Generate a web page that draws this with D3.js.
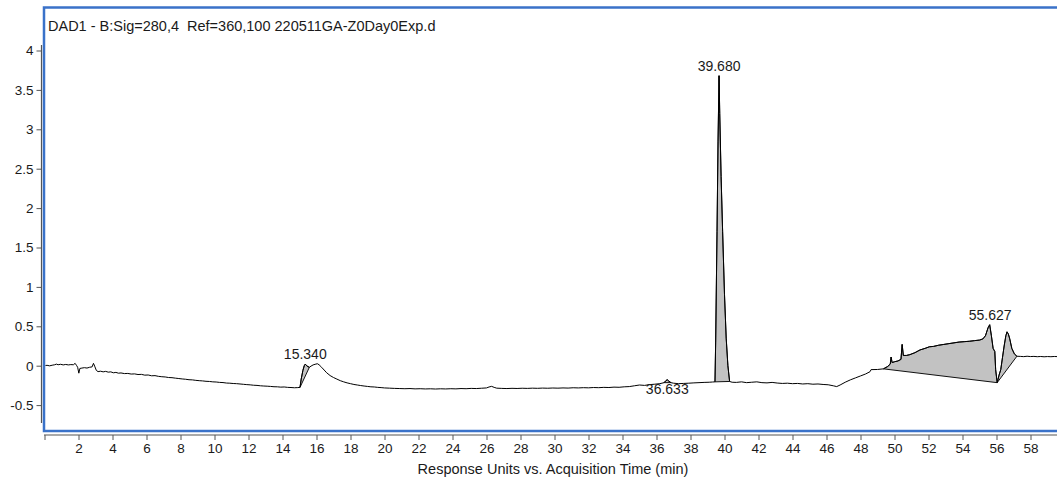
<!DOCTYPE html>
<html>
<head>
<meta charset="utf-8">
<script src="https://cdn.jsdelivr.net/npm/d3@7"></script>
<style>
  html, body { margin: 0; padding: 0; background: #fff; }
  svg { display: block; font-family: "Liberation Sans", Arial, sans-serif; }
  .pre { white-space: pre; }
</style>
</head>
<body>
<svg id="chart" width="1057" height="478"></svg>
<script>
// ---------------- data ----------------
const headerText = "DAD1 - B:Sig=280,4  Ref=360,100 220511GA-Z0Day0Exp.d";
const xAxisTitle = "Response Units vs. Acquisition Time (min)";
const xTickValues = [0, 2, 4, 6, 8, 10, 12, 14, 16, 18, 20, 22, 24, 26, 28, 30, 32, 34, 36, 38, 40, 42, 44, 46, 48, 50, 52, 54, 56, 58];
const yTickValues = [-0.5, 0, 0.5, 1, 1.5, 2, 2.5, 3, 3.5, 4];

// chromatogram trace: [time (min), response]
const trace = [
  [0,0.0],[0.15,0.005],[0.3,-0.002],[0.45,0.006],[0.6,0.012],[0.7,0.02],[0.8,0.012],[0.95,0.018],[1.1,0.01],[1.25,0.016],
  [1.4,0.01],[1.55,0.014],[1.7,0.012],[1.8,0.03],[1.88,0.005],[1.95,-0.02],[2.02,-0.095],[2.08,-0.035],[2.2,-0.03],[2.35,-0.025],
  [2.5,-0.03],[2.65,-0.02],[2.8,-0.015],[2.88,0.03],[2.95,-0.005],[3.05,-0.06],[3.15,-0.075],[3.3,-0.07],[3.45,-0.078],[3.6,-0.072],
  [3.75,-0.082],[3.9,-0.078],[4.05,-0.09],[4.2,-0.085],[4.35,-0.095],[4.5,-0.092],[4.7,-0.1],[4.9,-0.098],[5.1,-0.106],[5.3,-0.104],
  [5.5,-0.112],[5.7,-0.11],[5.9,-0.12],[6.1,-0.118],[6.3,-0.128],[6.5,-0.126],[6.7,-0.135],[6.9,-0.14],[7.1,-0.143],[7.3,-0.15],
  [7.5,-0.152],[7.7,-0.158],[7.9,-0.163],[8.1,-0.168],[8.3,-0.172],[8.5,-0.178],[8.7,-0.18],[8.9,-0.186],[9.1,-0.19],[9.3,-0.193],
  [9.5,-0.198],[9.7,-0.2],[9.9,-0.205],[10.1,-0.207],[10.3,-0.212],[10.5,-0.214],[10.7,-0.22],[10.9,-0.222],[11.1,-0.226],[11.3,-0.228],
  [11.5,-0.232],[11.7,-0.236],[11.9,-0.24],[12.1,-0.243],[12.3,-0.248],[12.5,-0.25],[12.7,-0.255],[12.9,-0.258],[13.1,-0.26],[13.3,-0.263],
  [13.5,-0.267],[13.7,-0.268],[13.9,-0.272],[14.1,-0.27],[14.3,-0.275],[14.5,-0.277],[14.7,-0.28],[14.9,-0.278],[15.03,-0.275],
  [15.1,-0.17],[15.2,-0.06],[15.28,0.0],[15.34,0.02],[15.42,0.0],[15.5,-0.012],[15.58,-0.02],[15.68,-0.005],[15.8,0.01],[15.92,0.018],
  [16.05,0.025],[16.15,0.012],[16.3,-0.02],[16.45,-0.055],[16.6,-0.09],[16.8,-0.125],[17.0,-0.15],[17.2,-0.17],[17.4,-0.19],[17.6,-0.205],
  [17.8,-0.218],[18.0,-0.228],[18.2,-0.238],[18.4,-0.245],[18.6,-0.252],[18.8,-0.258],[19.0,-0.263],[19.2,-0.268],[19.4,-0.27],[19.6,-0.275],
  [19.8,-0.278],[20.0,-0.282],[20.3,-0.285],[20.6,-0.288],[20.9,-0.29],[21.2,-0.292],[21.5,-0.29],[21.8,-0.294],[22.1,-0.292],[22.4,-0.295],
  [22.7,-0.293],[23.0,-0.296],[23.3,-0.293],[23.6,-0.295],[23.9,-0.292],[24.2,-0.294],[24.5,-0.29],[24.8,-0.292],[25.1,-0.288],[25.4,-0.29],
  [25.7,-0.286],[26.0,-0.282],[26.15,-0.27],[26.3,-0.262],[26.45,-0.275],[26.6,-0.285],[26.9,-0.288],[27.2,-0.29],[27.5,-0.287],[27.8,-0.289],
  [28.1,-0.286],[28.4,-0.288],[28.7,-0.285],[29.0,-0.287],[29.3,-0.284],[29.6,-0.286],[29.9,-0.283],[30.2,-0.285],[30.5,-0.282],[30.8,-0.284],
  [31.1,-0.28],[31.4,-0.282],[31.7,-0.279],[32.0,-0.281],[32.3,-0.277],[32.6,-0.279],[32.9,-0.275],[33.2,-0.277],[33.5,-0.272],[33.8,-0.274],
  [34.1,-0.268],[34.4,-0.265],[34.7,-0.255],[35.0,-0.245],[35.3,-0.25],[35.6,-0.24],[35.9,-0.235],[36.2,-0.228],[36.45,-0.215],[36.55,-0.19],
  [36.63,-0.178],[36.72,-0.195],[36.85,-0.215],[37.0,-0.222],[37.3,-0.228],[37.6,-0.225],[37.9,-0.222],[38.2,-0.218],[38.5,-0.215],[38.8,-0.212],
  [39.1,-0.21],[39.3,-0.207],[39.44,-0.205],[39.48,0.3],[39.56,1.7],[39.62,2.85],[39.68,3.68],[39.72,3.2],[39.8,2.4],[39.89,1.7],
  [40.0,0.9],[40.1,0.35],[40.2,0.0],[40.3,-0.2],[40.45,-0.21],[40.7,-0.212],[41.0,-0.205],[41.3,-0.215],[41.6,-0.21],[41.9,-0.205],
  [42.2,-0.215],[42.5,-0.218],[42.8,-0.212],[43.1,-0.22],[43.4,-0.225],[43.7,-0.222],[44.0,-0.228],[44.3,-0.225],[44.6,-0.232],[44.9,-0.228],
  [45.2,-0.235],[45.5,-0.232],[45.8,-0.238],[46.1,-0.242],[46.4,-0.255],[46.6,-0.265],[46.8,-0.245],[47.1,-0.21],[47.4,-0.18],[47.7,-0.155],
  [48.0,-0.13],[48.3,-0.105],[48.56,-0.076],[48.62,-0.05],[49.0,-0.048],[49.35,-0.04],[49.6,-0.01],[49.75,0.02],[49.8,0.11],[49.86,0.04],
  [50.0,0.05],[50.2,0.06],[50.38,0.08],[50.45,0.27],[50.52,0.13],[50.7,0.13],[50.9,0.14],[51.2,0.165],[51.5,0.2],[51.8,0.22],
  [52.05,0.24],[52.3,0.245],[52.6,0.26],[52.9,0.27],[53.2,0.28],[53.5,0.29],[53.8,0.3],[54.1,0.305],[54.4,0.31],[54.7,0.318],
  [55.0,0.325],[55.2,0.34],[55.35,0.38],[55.5,0.48],[55.6,0.52],[55.7,0.38],[55.8,0.22],[55.9,0.18],[55.95,-0.05],[56.04,-0.215],
  [56.15,-0.12],[56.25,-0.05],[56.35,0.1],[56.45,0.25],[56.55,0.38],[56.62,0.43],[56.7,0.4],[56.78,0.34],[56.9,0.22],[57.05,0.15],
  [57.2,0.12],[57.4,0.118],[57.6,0.115],[57.8,0.12],[58.0,0.116],[58.2,0.118],[58.4,0.114],[58.6,0.117],[58.8,0.113],[59.0,0.116],
  [59.2,0.114],[59.4,0.117],[59.6,0.115],[59.8,0.114],[60,0.116]
];

// integration baselines: start/end points (time, response)
const integStart = [[15.03,-0.275],[36.45,-0.215],[39.44,-0.205],[49.35,-0.04],[56.04,-0.215]];
const integEnd   = [[15.58,-0.02],[36.85,-0.215],[40.3,-0.2],[56.04,-0.215],[57.2,0.12]];

// peak labels
const peakNames = ["15.340", "36.633", "39.680", "55.627"];
const peakTimes = [15.340, 36.633, 39.680, 55.627];

// ---------------- drawing ----------------
const svg = d3.select("#chart");
const x = d3.scaleLinear().domain([0, 60]).range([44.5, 1064.5]);
const y = d3.scaleLinear().domain([-0.5, 4]).range([405.1, 50.5]);

const axisColor = "#555";
const textColor = "#1a1a1a";

// blue frame of plot area
svg.append("rect")
  .attr("x", 44).attr("y", 7.5)
  .attr("width", 1100).attr("height", 423.5)
  .attr("fill", "none")
  .attr("stroke", "#3a72c9")
  .attr("stroke-width", 2.5);

// header text
svg.append("text")
  .attr("class", "pre")
  .attr("x", 48).attr("y", 31)
  .attr("font-size", 14.5)
  .attr("fill", textColor)
  .text(headerText);

// clip for plot content
svg.append("clipPath").attr("id", "plotclip")
  .append("rect").attr("x", 45.5).attr("y", 9).attr("width", 1100).attr("height", 421);

const plot = svg.append("g").attr("clip-path", "url(#plotclip)");

// integrated regions
const lineGen = d3.line().x(d => x(d[0])).y(d => y(d[1]));
integStart.forEach((s, i) => {
  const e = integEnd[i];
  const inner = trace.filter(d => d[0] > s[0] && d[0] < e[0]);
  const poly = [s, ...inner, e];
  plot.append("path")
    .attr("d", lineGen(poly) + "Z")
    .attr("fill", "#c2c2c2")
    .attr("stroke", "#111")
    .attr("stroke-width", 1)
    .attr("stroke-linejoin", "round");
});

// trace
plot.append("path")
  .datum(trace)
  .attr("d", lineGen)
  .attr("fill", "none")
  .attr("stroke", "#000")
  .attr("stroke-width", 1)
  .attr("stroke-linejoin", "round");

// peak labels
peakNames.forEach((name, i) => {
  const t = peakTimes[i];
  const near = trace.filter(d => Math.abs(d[0] - t) < 0.12);
  const top = d3.max(near, d => d[1]);
  const below = name === "36.633";
  plot.append("text")
    .attr("x", x(t))
    .attr("y", below ? y(top) + 14 : y(top) - 5)
    .attr("text-anchor", "middle")
    .attr("font-size", 14)
    .attr("fill", textColor)
    .text(name);
});

// y axis
const yAxis = svg.append("g")
  .attr("transform", "translate(41.5,0)")
  .call(d3.axisLeft(y).tickValues(yTickValues).tickSize(5).tickSizeOuter(0).tickFormat(d => String(d)));
yAxis.select(".domain").remove();
yAxis.append("line")
  .attr("x1", 0).attr("x2", 0)
  .attr("y1", 45).attr("y2", 423)
  .attr("stroke", axisColor).attr("stroke-width", 1.2);
yAxis.selectAll(".tick line").attr("stroke", axisColor);
yAxis.selectAll(".tick text")
  .attr("x", -8)
  .attr("font-size", 13.5)
  .attr("font-family", "Liberation Sans, Arial, sans-serif")
  .attr("fill", textColor);

// x axis
const xAxis = svg.append("g")
  .attr("transform", "translate(0,435)")
  .call(d3.axisBottom(x).tickValues(xTickValues).tickSize(5).tickSizeOuter(0).tickFormat(d => d === 0 ? "" : String(d)));
xAxis.select(".domain").remove();
xAxis.append("line")
  .attr("x1", 44).attr("x2", 1057)
  .attr("y1", 0).attr("y2", 0)
  .attr("stroke", axisColor).attr("stroke-width", 1.2);
xAxis.selectAll(".tick line").attr("stroke", axisColor);
xAxis.selectAll(".tick text")
  .attr("y", 8)
  .attr("font-size", 13.5)
  .attr("font-family", "Liberation Sans, Arial, sans-serif")
  .attr("fill", textColor);

// x axis title
svg.append("text")
  .attr("x", 553).attr("y", 474)
  .attr("text-anchor", "middle")
  .attr("font-size", 14.5)
  .attr("fill", textColor)
  .text(xAxisTitle);
</script>
</body>
</html>
